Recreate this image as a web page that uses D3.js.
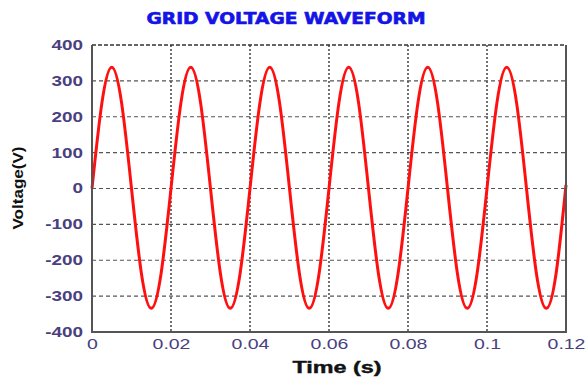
<!DOCTYPE html>
<html>
<head>
<meta charset="utf-8">
<script src="https://cdn.jsdelivr.net/npm/d3@7"></script>
<style>
  body { margin: 0; background: #fff; }
  svg { display: block; }
</style>
</head>
<body>
<svg id="chart" width="587" height="381"></svg>
<script>
// sample times (s), every 2.5 ms
const times = [
  0, 0.0025, 0.005, 0.0075, 0.01, 0.0125, 0.015, 0.0175,
  0.02, 0.0225, 0.025, 0.0275, 0.03, 0.0325, 0.035, 0.0375,
  0.04, 0.0425, 0.045, 0.0475, 0.05, 0.0525, 0.055, 0.0575,
  0.06, 0.0625, 0.065, 0.0675, 0.07, 0.0725, 0.075, 0.0775,
  0.08, 0.0825, 0.085, 0.0875, 0.09, 0.0925, 0.095, 0.0975,
  0.1, 0.1025, 0.105, 0.1075, 0.11, 0.1125, 0.115, 0.1175,
  0.12
];
// grid voltage (V) at those times
const voltage = [
  0, 238, 338, 238, 0, -236, -334, -236,
  0, 238, 338, 238, 0, -236, -334, -236,
  0, 238, 338, 238, 0, -236, -334, -236,
  0, 238, 338, 238, 0, -236, -334, -236,
  0, 238, 338, 238, 0, -236, -334, -236,
  0, 238, 338, 238, 0, -236, -334, -236,
  10
];
const xTicks = [0, 0.02, 0.04, 0.06, 0.08, 0.1, 0.12];
const xTickLabels = ["0", "0.02", "0.04", "0.06", "0.08", "0.1", "0.12"];
const yTicks = [-400, -300, -200, -100, 0, 100, 200, 300, 400];

const svg = d3.select("#chart");
const plotL = 92, plotR = 566, plotT = 45, plotB = 332;

const x = d3.scaleLinear().domain([0, 0.12]).range([plotL, plotR]);
const y = d3.scaleLinear().domain([-400, 400]).range([plotB, plotT]);

// title
svg.append("text")
  .attr("x", 286).attr("y", 24)
  .attr("text-anchor", "middle")
  .attr("font-family", "DejaVu Sans, sans-serif")
  .attr("font-weight", "bold")
  .attr("font-size", 15)
  .attr("textLength", 279)
  .attr("lengthAdjust", "spacingAndGlyphs")
  .attr("fill", "#1414e6")
  .attr("stroke", "#1414e6")
  .attr("stroke-width", 0.6)
  .text("GRID VOLTAGE WAVEFORM");

// grid
svg.append("g")
  .selectAll("line")
  .data(yTicks.slice(1, -1))
  .join("line")
  .attr("x1", plotL).attr("x2", plotR)
  .attr("y1", d => y(d)).attr("y2", d => y(d))
  .attr("stroke", "#555")
  .attr("stroke-width", 1.2)
  .attr("stroke-dasharray", "4,3");

svg.append("g")
  .selectAll("line")
  .data(xTicks.slice(1, -1))
  .join("line")
  .attr("x1", d => x(d)).attr("x2", d => x(d))
  .attr("y1", plotT).attr("y2", plotB)
  .attr("stroke", "#444")
  .attr("stroke-width", 1.5)
  .attr("stroke-dasharray", "2,2");

// top dashed edge like the original
svg.append("line")
  .attr("x1", plotL).attr("x2", plotR)
  .attr("y1", plotT).attr("y2", plotT)
  .attr("stroke", "#333").attr("stroke-width", 1.5)
  .attr("stroke-dasharray", "4,2");

// waveform
const data = times.map((t, i) => ({ t: t, v: voltage[i] }));
const line = d3.line()
  .x(d => x(d.t))
  .y(d => y(d.v))
  .curve(d3.curveNatural);

svg.append("path")
  .datum(data)
  .attr("d", line)
  .attr("fill", "none")
  .attr("stroke", "#ff1010")
  .attr("stroke-width", 3);

// frame (left, bottom, right)
svg.append("path")
  .attr("d", `M${plotL},${plotT} V${plotB} H${plotR} V${plotT}`)
  .attr("fill", "none")
  .attr("stroke", "#555")
  .attr("stroke-width", 2);

// y axis labels (stretched wide like the source image)
const ySx = 1.35;
const yAxis = svg.append("g")
  .attr("transform", `translate(${plotL},0)`)
  .call(d3.axisLeft(y).tickValues(yTicks).tickSize(0).tickFormat(d => String(d)));
yAxis.select(".domain").remove();
yAxis.selectAll("text")
  .attr("x", -9 / ySx)
  .attr("transform", `scale(${ySx},1)`)
  .attr("font-family", "Liberation Sans, Arial, sans-serif")
  .attr("font-size", 14)
  .attr("font-weight", "bold")
  .attr("fill", "#4a3f80");

// x axis labels
const xAxis = svg.append("g")
  .attr("transform", `translate(0,${plotB})`)
  .call(d3.axisBottom(x).tickValues(xTicks).tickSize(0).tickPadding(6)
    .tickFormat((d, i) => xTickLabels[i]));
xAxis.select(".domain").remove();
xAxis.selectAll("text")
  .attr("transform", "scale(1.3,1)")
  .attr("font-family", "Liberation Sans, Arial, sans-serif")
  .attr("font-size", 15)
  .attr("fill", "#4a3f80");
// undo the scale on the tick group positions
xAxis.selectAll(".tick text")
  .attr("x", 0);

// axis titles
svg.append("text")
  .attr("x", 337).attr("y", 373)
  .attr("text-anchor", "middle")
  .attr("font-family", "Liberation Sans, Arial, sans-serif")
  .attr("font-weight", "bold")
  .attr("font-size", 16)
  .attr("textLength", 89)
  .attr("lengthAdjust", "spacingAndGlyphs")
  .attr("fill", "#111")
  .attr("stroke", "#111")
  .attr("stroke-width", 0.4)
  .text("Time (s)");

svg.append("text")
  .attr("transform", "translate(23,188) rotate(-90)")
  .attr("text-anchor", "middle")
  .attr("font-family", "Liberation Sans, Arial, sans-serif")
  .attr("font-weight", "bold")
  .attr("font-size", 14)
  .attr("textLength", 83)
  .attr("lengthAdjust", "spacingAndGlyphs")
  .attr("fill", "#111")
  .text("Voltage(V)");
</script>
</body>
</html>
